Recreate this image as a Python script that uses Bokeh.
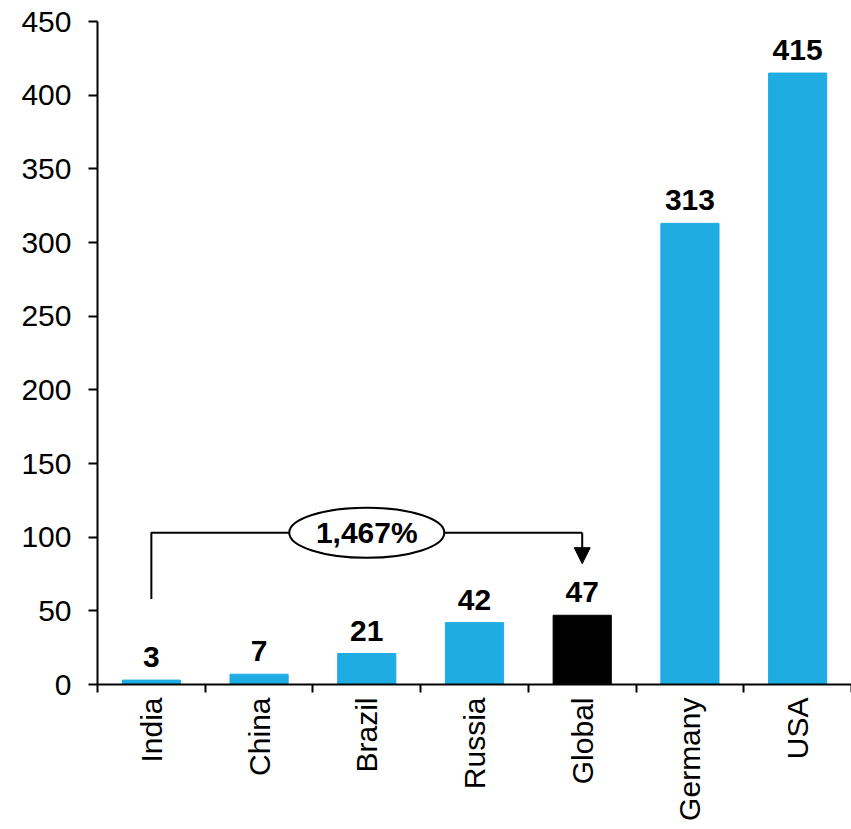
import math
from bokeh.plotting import figure
from bokeh.models import (ColumnDataSource, Range1d, FixedTicker, LinearAxis,
                          Arrow, NormalHead)
from bokeh.core.properties import value
from bokeh.embed import file_html
from bokeh.resources import INLINE

# Data
countries = ["India", "China", "Brazil", "Russia", "Global", "Germany", "USA"]
values = [3, 7, 21, 42, 47, 313, 415]
bar_colors = ["#1FACE3", "#1FACE3", "#1FACE3", "#1FACE3", "#000000", "#1FACE3", "#1FACE3"]
y_ticks = [0, 50, 100, 150, 200, 250, 300, 350, 400, 450]
growth_label = "1,467%"
growth_from = "India"
growth_to = "Global"

FONT = "Liberation Sans"

centers = [i + 0.5 for i in range(len(countries))]
src = ColumnDataSource(dict(x=centers, top=values, color=bar_colors,
                            label=[str(v) for v in values]))

p = figure(width=851, height=829, output_backend="svg", toolbar_location=None,
           x_range=Range1d(0, len(countries)), y_range=Range1d(0, 450),
           x_axis_type=None, y_axis_type=None)
p.min_border_left = 97
p.min_border_right = 0
p.min_border_top = 21
p.min_border_bottom = 145
p.outline_line_color = None
p.xgrid.visible = False
p.ygrid.visible = False

# Y axis
yax = LinearAxis(ticker=FixedTicker(ticks=y_ticks))
yax.axis_line_width = 2
yax.major_tick_line_width = 2
yax.major_tick_out = 9
yax.major_tick_in = 0
yax.minor_tick_line_color = None
yax.major_label_text_font = FONT
yax.major_label_text_font_size = "30px"
yax.major_label_text_color = "black"
yax.major_label_standoff = 17
p.add_layout(yax, "left")

# X axis: labels at category centers, tick marks between categories
xax = LinearAxis(ticker=FixedTicker(ticks=centers,
                                    minor_ticks=list(range(len(countries) + 1))))
xax.major_label_overrides = {c: n for c, n in zip(centers, countries)}
xax.major_label_orientation = math.pi / 2
xax.axis_line_width = 2
xax.major_tick_line_color = None
xax.major_tick_out = 0
xax.major_tick_in = 0
xax.minor_tick_line_width = 2
xax.minor_tick_line_color = "black"
xax.minor_tick_out = 8
xax.minor_tick_in = 0
xax.major_label_text_font = FONT
xax.major_label_text_font_size = "30px"
xax.major_label_text_color = "black"
xax.major_label_standoff = 5
p.add_layout(xax, "below")

# Bars
p.vbar(x="x", top="top", width=0.54, color="color", source=src)

# Value labels above the bars
p.text(x="x", y="top", text="label", source=src, text_align="center",
       text_baseline="alphabetic", y_offset=-23, text_font=value(FONT),
       text_font_style="bold", text_font_size="30px", text_color="black")

# Growth bracket from India to Global
x0 = centers[countries.index(growth_from)]
x1 = centers[countries.index(growth_to)]
bracket_y = 103
p.line(x=[x0, x0, x1], y=[58, bracket_y, bracket_y], line_color="black", line_width=2)
p.add_layout(Arrow(end=NormalHead(size=16, fill_color="black", line_color="black"),
                   x_start=x1, y_start=bracket_y, x_end=x1, y_end=82,
                   line_color="black", line_width=2))
ex = (x0 + x1) / 2
p.ellipse(x=[ex], y=[bracket_y], width=1.44, height=34, fill_color="white",
          line_color="black", line_width=2)
p.text(x=[ex], y=[bracket_y], text=[growth_label], text_align="center",
       text_baseline="middle", text_font=value(FONT), text_font_style="bold",
       text_font_size="30px", text_color="black")

open("out.html", "w").write(file_html(p, INLINE))
